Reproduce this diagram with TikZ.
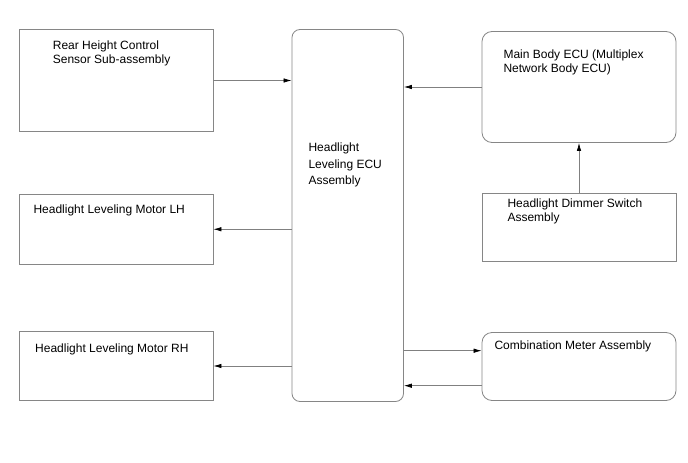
\documentclass[tikz,border=0pt]{standalone}
\usepackage{fontspec}
\setmainfont{Liberation Sans}
\usepackage{tikz}
\usetikzlibrary{arrows.meta, positioning}

\begin{document}
\begin{tikzpicture}[
    x=1pt, y=-1pt,
    blk/.style={draw=gray!95, line width=0.8pt, inner sep=0pt},
    rblk/.style={blk, rounded corners=8pt},
    lbl/.style={anchor=north west, inner sep=0pt, align=left, font=\fontsize{12}{14}\selectfont},
    arr/.style={-{Latex[length=8pt, width=4.5pt, black]}, gray, line width=0.7pt}
]
    \useasboundingbox (0,0) rectangle (688,463);

    % Left column
    \node[blk, minimum width=193.5pt, minimum height=102pt] (rear) at (116.25,80.5) {};
    \node[blk, minimum width=193.5pt, minimum height=69.5pt] (motlh) at (116.25,229.25) {};
    \node[blk, minimum width=193.5pt, minimum height=69pt] (motrh) at (116.25,366) {};

    % Headlight leveling ECU
    \node[rblk, minimum width=111.5pt, minimum height=372pt] (ecu) at (347.75,215.5) {};

    % Right column
    \node[rblk, rounded corners=10pt, minimum width=194pt, minimum height=111pt] (body) at (579,87) {};
    \node[blk, minimum width=194pt, minimum height=68pt] (dimmer) at (579,227.5) {};
    \node[rblk, rounded corners=10pt, minimum width=194pt, minimum height=68pt] (meter) at (579,366.5) {};

    % Labels
    \node[lbl] (rear-t) at (52.7,40.7) {Rear Height Control\\Sensor Sub-assembly};
    \node[lbl] (motlh-t) at (33.3,204.8) {Headlight Leveling Motor LH};
    \node[lbl] (motrh-t) at (35,343.3) {Headlight Leveling Motor RH};
    \node[lbl, font=\fontsize{12}{16.5}\selectfont] (ecu-t) at (308.3,142.7) {Headlight\\Leveling ECU\\Assembly};
    \node[lbl] (body-t) at (503.3,49.3) {Main Body ECU (Multiplex\\Network Body ECU)};
    \node[lbl] (dimmer-t) at (507.3,198.3) {Headlight Dimmer Switch\\Assembly};
    \node[lbl] (meter-t) at (494.3,340.7) {Combination Meter Assembly};

    % Signals
    \draw[arr] (rear.east) -- (rear.east -| ecu.west);
    \draw[arr] (body.west) -- (body.west -| ecu.east);
    \draw[arr] (dimmer.north) -- (body.south);
    \draw[arr] (motlh.east -| ecu.west) -- (motlh.east);
    \draw[arr] (motrh.east -| ecu.west) -- (motrh.east);
    \draw[arr] ([yshift=15.8pt]meter.west -| ecu.east) -- ([yshift=15.8pt]meter.west);
    \draw[arr] ([yshift=-19.2pt]meter.west) -- ([yshift=-19.2pt]meter.west -| ecu.east);

\end{tikzpicture}
\end{document}
